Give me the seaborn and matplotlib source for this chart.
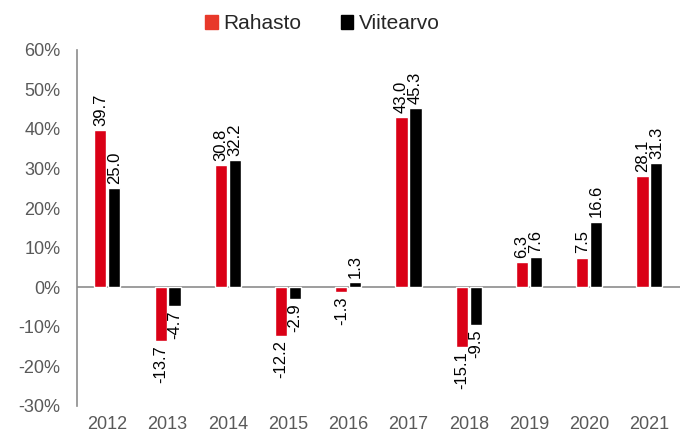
import matplotlib
matplotlib.use("Agg")
import matplotlib.pyplot as plt
import matplotlib.patches as mpatches
import pandas as pd
import seaborn as sns

# --- DADOS ---
years = ["2012", "2013", "2014", "2015", "2016", "2017", "2018", "2019", "2020", "2021"]
rahasto = [39.7, -13.7, 30.8, -12.2, -1.3, 43.0, -15.1, 6.3, 7.5, 28.1]
viitearvo = [25.0, -4.7, 32.2, -2.9, 1.3, 45.3, -9.5, 7.6, 16.6, 31.3]
series = ["Rahasto", "Viitearvo"]

RED = "#DA0016"
BLACK = "#000000"
GREY = "#595959"

df = pd.DataFrame({
    "year": years * 2,
    "value": rahasto + viitearvo,
    "series": [series[0]] * len(years) + [series[1]] * len(years),
})

sns.set_theme(style="white")
plt.rcParams["font.family"] = ["Liberation Sans", "DejaVu Sans"]

fig = plt.figure(figsize=(6.83, 4.37), dpi=100)
ax = fig.add_axes([0.113, 0.071, 0.882, 0.815])

sns.barplot(data=df, x="year", y="value", hue="series", palette=[RED, BLACK],
            width=0.46, gap=0.12, ax=ax, legend=False, saturation=1)

for cont in ax.containers:
    ax.bar_label(cont, fmt="%.1f", rotation=90, padding=3, fontsize=12, color="#000000")

ax.set_ylim(-30, 60)
ax.set_yticks(range(-30, 61, 10))
ax.set_yticklabels([f"{t}%" for t in range(-30, 61, 10)])
ax.axhline(0, color="#8c8c8c", lw=1.2, zorder=0)

for s in ["top", "right", "bottom"]:
    ax.spines[s].set_visible(False)
ax.spines["left"].set_color("#8c8c8c")
ax.spines["left"].set_linewidth(1.2)

ax.tick_params(axis="both", length=0, labelsize=13, colors=GREY)
ax.tick_params(axis="y", pad=12)
ax.tick_params(axis="x", pad=7)
ax.set_xlabel("")
ax.set_ylabel("")

handles = [mpatches.Patch(color="#E8392A", label=series[0]),
           mpatches.Patch(color=BLACK, label=series[1])]
fig.legend(handles=handles, loc="upper center", bbox_to_anchor=(0.472, 1.01), ncol=2,
           frameon=False, fontsize=15, handlelength=0.6, handleheight=0.6,
           handletextpad=0.25, columnspacing=1.9)

plt.savefig("out.png", dpi=100)
